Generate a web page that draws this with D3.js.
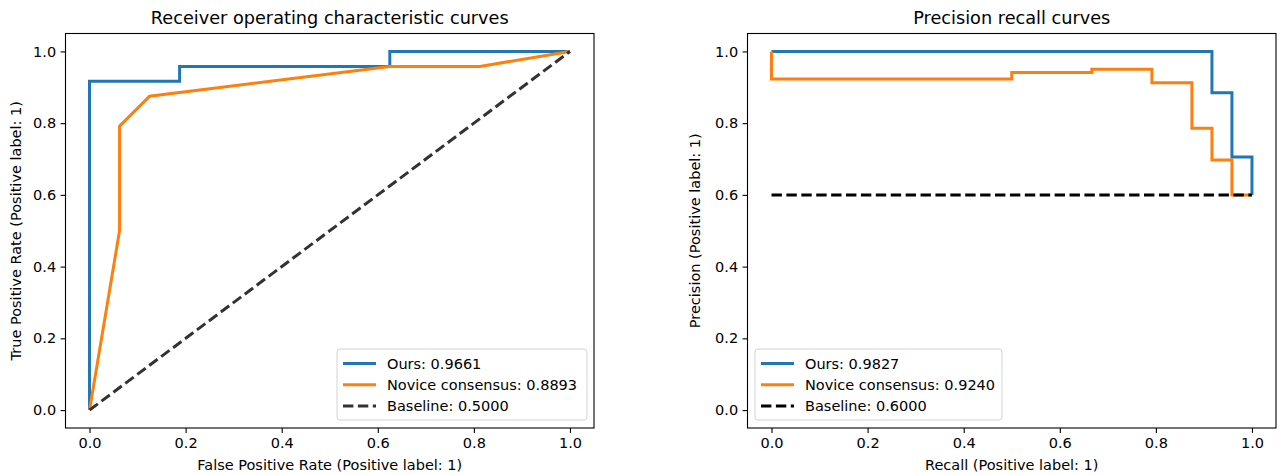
<!DOCTYPE html>
<html>
<head>
<meta charset="utf-8">
<script src="https://cdn.jsdelivr.net/npm/d3@7"></script>
<style>
  html, body { margin: 0; padding: 0; background: #ffffff; }
  svg { display: block; }
  text { font-family: "DejaVu Sans", sans-serif; fill: #000; }
</style>
</head>
<body>
<svg id="chart" width="1282" height="475"></svg>
<script>
// ---------- data ----------
const tickValues = [0.0, 0.2, 0.4, 0.6, 0.8, 1.0];

// ROC curves
const rocOursFpr = [0, 0, 0.1875, 0.1875, 0.625, 0.625, 1];
const rocOursTpr = [0, 0.9167, 0.9167, 0.9583, 0.9583, 1, 1];
const rocNoviceFpr = [0, 0.0625, 0.0625, 0.125, 0.625, 0.8125, 1];
const rocNoviceTpr = [0, 0.5, 0.7917, 0.875, 0.9583, 0.9583, 1];
const rocBaselineX = [0, 1];
const rocBaselineY = [0, 1];

// Precision-recall curves (sklearn order, drawn as steps-post)
const prOursRecall = [1, 1, 0.9583, 0.9167, 0];
const prOursPrecision = [0.6, 0.7059, 0.8846, 1, 1];
const prNoviceRecall = [1, 0.9583, 0.9583, 0.9167, 0.875, 0.7917, 0.6667, 0.5, 0];
const prNovicePrecision = [0.6, 0.6389, 0.6970, 0.7857, 0.9130, 0.95, 0.9412, 0.9231, 1.0];
const prBaselineX = [0, 1];
const prBaselineY = [0.6, 0.6];

const rocLegend = ["Ours: 0.9661", "Novice consensus: 0.8893", "Baseline: 0.5000"];
const prLegend = ["Ours: 0.9827", "Novice consensus: 0.9240", "Baseline: 0.6000"];

const titles = ["Receiver operating characteristic curves", "Precision recall curves"];
const xLabels = ["False Positive Rate (Positive label: 1)", "Recall (Positive label: 1)"];
const yLabels = ["True Positive Rate (Positive label: 1)", "Precision (Positive label: 1)"];

// ---------- drawing ----------
const svg = d3.select("#chart");
const BLUE = "#1f77b4", ORANGE = "#ff7f0e";
const FS = 14.5, LW = 3;

function zip(xs, ys) { return xs.map((x, i) => [x, ys[i]]); }

function panel(opt) {
  const x = d3.scaleLinear().domain([-0.05, 1.05]).range([opt.left, opt.right]);
  const y = d3.scaleLinear().domain([-0.05, 1.05]).range([opt.bottom, opt.top]);
  const g = svg.append("g");

  g.append("rect").attr("x", opt.left).attr("y", opt.top)
    .attr("width", opt.right - opt.left).attr("height", opt.bottom - opt.top)
    .attr("fill", "#fff");

  const xa = g.append("g").attr("transform", `translate(0,${opt.bottom})`)
    .call(d3.axisBottom(x).tickValues(tickValues).tickFormat(d3.format(".1f"))
      .tickSize(4.9).tickPadding(4.5));
  const ya = g.append("g").attr("transform", `translate(${opt.left},0)`)
    .call(d3.axisLeft(y).tickValues(tickValues).tickFormat(d3.format(".1f"))
      .tickSize(4.9).tickPadding(4.5));
  [xa, ya].forEach(a => {
    a.select(".domain").remove();
    a.selectAll(".tick line").attr("stroke", "#000").attr("stroke-width", 1.1);
    a.selectAll(".tick text").style("font-size", FS + "px")
      .style("font-family", "DejaVu Sans, sans-serif").attr("fill", "#000");
  });

  const line = d3.line().x(d => x(d[0])).y(d => y(d[1])).curve(opt.curve);
  const clipId = "clip" + opt.left;
  svg.append("clipPath").attr("id", clipId).append("rect")
    .attr("x", opt.left).attr("y", opt.top)
    .attr("width", opt.right - opt.left).attr("height", opt.bottom - opt.top);
  const pg = g.append("g").attr("clip-path", `url(#${clipId})`);

  opt.series.forEach(s => {
    pg.append("path").datum(s.data)
      .attr("d", s.linear ? d3.line().x(d => x(d[0])).y(d => y(d[1]))(s.data) : line(s.data))
      .attr("fill", "none").attr("stroke", s.color).attr("stroke-width", LW)
      .attr("stroke-dasharray", s.dash ? "10.4,4.5" : null)
      .attr("stroke-linejoin", "miter");
  });

  g.append("rect").attr("x", opt.left).attr("y", opt.top)
    .attr("width", opt.right - opt.left).attr("height", opt.bottom - opt.top)
    .attr("fill", "none").attr("stroke", "#000").attr("stroke-width", 1.1);

  g.append("text").attr("x", (opt.left + opt.right) / 2).attr("y", 24)
    .attr("text-anchor", "middle").style("font-size", "17.7px").text(opt.title);
  g.append("text").attr("x", (opt.left + opt.right) / 2).attr("y", 470)
    .attr("text-anchor", "middle").style("font-size", FS + "px").text(opt.xlabel);
  g.append("text").attr("transform", `translate(${opt.ylabelX},${(opt.top + opt.bottom) / 2}) rotate(-90)`)
    .attr("text-anchor", "middle").style("font-size", FS + "px").text(opt.ylabel);

  // legend (lower left / lower right)
  const L = opt.legend;
  const lg = g.append("g");
  lg.append("rect").attr("x", L.x).attr("y", L.y).attr("width", L.w).attr("height", L.h)
    .attr("rx", 3).attr("fill", "#fff").attr("fill-opacity", 0.8)
    .attr("stroke", "#d3d3d3").attr("stroke-width", 1);
  opt.series.forEach((s, i) => {
    const cy = L.y + 14.5 + i * 21.3;
    lg.append("line").attr("x1", L.x + 6).attr("x2", L.x + 39)
      .attr("y1", cy).attr("y2", cy)
      .attr("stroke", s.color).attr("stroke-width", LW)
      .attr("stroke-dasharray", s.dash ? "10.4,4.5" : null);
    lg.append("text").attr("x", L.x + 50).attr("y", cy + 5.2)
      .style("font-size", FS + "px").text(s.label);
  });
}

panel({
  left: 65.5, right: 594, top: 33.5, bottom: 428,
  curve: d3.curveLinear,
  title: titles[0], xlabel: xLabels[0], ylabel: yLabels[0], ylabelX: 21,
  legend: { x: 337, y: 349, w: 250, h: 71 },
  series: [
    { data: zip(rocOursFpr, rocOursTpr), color: BLUE, label: rocLegend[0] },
    { data: zip(rocNoviceFpr, rocNoviceTpr), color: ORANGE, label: rocLegend[1] },
    { data: zip(rocBaselineX, rocBaselineY), color: "#333", dash: true, label: rocLegend[2] }
  ]
});

panel({
  left: 747.5, right: 1276, top: 33.5, bottom: 428,
  curve: d3.curveStepAfter,
  title: titles[1], xlabel: xLabels[1], ylabel: yLabels[1], ylabelX: 700,
  legend: { x: 755, y: 349, w: 247, h: 71 },
  series: [
    { data: zip(prOursRecall, prOursPrecision), color: BLUE, label: prLegend[0] },
    { data: zip(prNoviceRecall, prNovicePrecision), color: ORANGE, label: prLegend[1] },
    { data: zip(prBaselineX, prBaselineY), color: "#000", dash: true, linear: true, label: prLegend[2] }
  ]
});
</script>
</body>
</html>
